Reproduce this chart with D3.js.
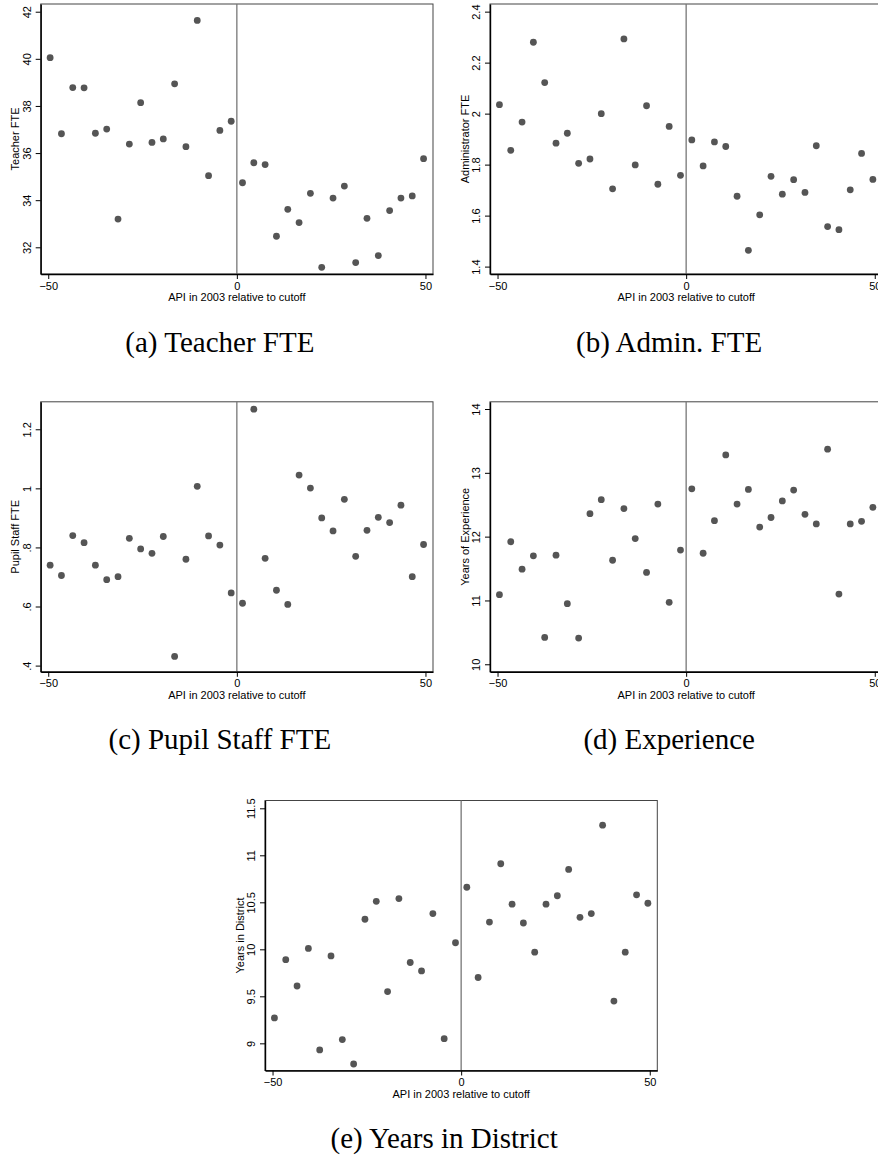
<!DOCTYPE html>
<html>
<head>
<meta charset="utf-8">
<script src="https://cdn.jsdelivr.net/npm/d3@7"></script>
<style>
  body { margin: 0; background: #fff; }
  svg { display: block; }
</style>
</head>
<body>
<svg id="chart" width="878" height="1156"></svg>
<script>
// bin midpoints of API relative to cutoff
var apiBins = [-49.5, -46.5, -43.5, -40.5, -37.5, -34.5, -31.5, -28.5, -25.5, -22.5, -19.5, -16.5,
               -13.5, -10.5, -7.5, -4.5, -1.5, 1.5, 4.5, 7.5, 10.5, 13.5, 16.5, 19.5, 22.5, 25.5,
               28.5, 31.5, 34.5, 37.5, 40.5, 43.5, 46.5, 49.5];

var teacherFte = [40.05, 36.82, 38.78, 38.77, 36.84, 37.02, 33.20, 36.38, 38.14, 36.45, 36.60, 38.94,
                  36.27, 41.63, 35.04, 36.96, 37.35, 34.74, 35.59, 35.51, 32.47, 33.61, 33.05, 34.29,
                  31.15, 34.09, 34.60, 31.35, 33.23, 31.65, 33.56, 34.09, 34.18, 35.76];
var adminFte = [2.035, 1.856, 1.967, 2.280, 2.122, 1.884, 1.923, 1.805, 1.822, 2.000, 1.705, 2.293,
                1.799, 2.031, 1.723, 1.950, 1.758, 1.897, 1.795, 1.889, 1.871, 1.676, 1.464, 1.603,
                1.754, 1.684, 1.741, 1.691, 1.874, 1.557, 1.545, 1.701, 1.844, 1.742];
var pupilStaffFte = [0.740, 0.705, 0.840, 0.816, 0.740, 0.691, 0.701, 0.831, 0.795, 0.780, 0.837, 0.431,
                     0.760, 1.007, 0.839, 0.808, 0.646, 0.611, 1.268, 0.763, 0.655, 0.607, 1.045, 1.001,
                     0.900, 0.856, 0.963, 0.770, 0.858, 0.902, 0.884, 0.943, 0.701, 0.810];
var experience = [11.09, 11.92, 11.49, 11.70, 10.42, 11.71, 10.95, 10.41, 12.36, 12.58, 11.63, 12.44,
                  11.97, 11.44, 12.51, 10.97, 11.79, 12.75, 11.74, 12.25, 13.28, 12.51, 12.74, 12.15,
                  12.30, 12.56, 12.73, 12.35, 12.20, 13.37, 11.10, 12.20, 12.24, 12.46];
var yearsDistrict = [9.27, 9.89, 9.61, 10.01, 8.93, 9.93, 9.04, 8.78, 10.32, 10.51, 9.55, 10.54,
                     9.86, 9.77, 10.38, 9.05, 10.07, 10.66, 9.70, 10.29, 10.91, 10.48, 10.28, 9.97,
                     10.48, 10.57, 10.85, 10.34, 10.38, 11.32, 9.45, 9.97, 10.58, 10.49];

// tick values and their labels
var xTicks = [-50, 0, 50];
var xTickLabels = ["\u221250", "0", "50"];
var teacherTicks = [32, 34, 36, 38, 40, 42];
var teacherTickLabels = ["32", "34", "36", "38", "40", "42"];
var adminTicks = [1.4, 1.6, 1.8, 2, 2.2, 2.4];
var adminTickLabels = ["1.4", "1.6", "1.8", "2", "2.2", "2.4"];
var pupilTicks = [0.4, 0.6, 0.8, 1, 1.2];
var pupilTickLabels = [".4", ".6", ".8", "1", "1.2"];
var expTicks = [10, 11, 12, 13, 14];
var expTickLabels = ["10", "11", "12", "13", "14"];
var districtTicks = [9, 9.5, 10, 10.5, 11, 11.5];
var districtTickLabels = ["9", "9.5", "10", "10.5", "11", "11.5"];

var xTitle = "API in 2003 relative to cutoff";

var plotW = 392.3, plotH = 270;
var sans = "'Liberation Sans', Arial, Helvetica, sans-serif";
var serif = "'Liberation Serif', 'Times New Roman', serif";

var panels = [
    {left: 40.7, top: 4, values: teacherFte, ticks: teacherTicks, labels: teacherTickLabels,
     yDomain: [30.867, 42.327], ytitle: "Teacher FTE", caption: "(a) Teacher FTE"},
    {left: 490, top: 4, values: adminFte, ticks: adminTicks, labels: adminTickLabels,
     yDomain: [1.371, 2.430], ytitle: "Administrator FTE", caption: "(b) Admin. FTE"},
    {left: 40.7, top: 401.8, values: pupilStaffFte, ticks: pupilTicks, labels: pupilTickLabels,
     yDomain: [0.379, 1.293], ytitle: "Pupil Staff FTE", caption: "(c) Pupil Staff FTE"},
    {left: 490, top: 401.8, values: experience, ticks: expTicks, labels: expTickLabels,
     yDomain: [9.882, 14.113], ytitle: "Years of Experience", caption: "(d) Experience"},
    {left: 265, top: 800.5, values: yearsDistrict, ticks: districtTicks, labels: districtTickLabels,
     yDomain: [8.711, 11.583], ytitle: "Years in District", caption: "(e) Years in District"}
];

var svg = d3.select("#chart");

panels.forEach(function(p) {
    var g = svg.append("g")
        .attr("transform", "translate(" + p.left + "," + p.top + ")");

    var xScale = d3.scaleLinear().domain([-52, 52]).range([0, plotW]);
    var yScale = d3.scaleLinear().domain(p.yDomain).range([plotH, 0]);

    // plot region outline (top / right)
    g.append("rect")
        .attr("x", 0).attr("y", 0)
        .attr("width", plotW).attr("height", plotH)
        .attr("fill", "none")
        .attr("stroke", "#444")
        .attr("stroke-width", 1);

    // cutoff line
    g.append("line")
        .attr("x1", xScale(0)).attr("x2", xScale(0))
        .attr("y1", 0).attr("y2", plotH)
        .attr("stroke", "#777")
        .attr("stroke-width", 1.3);

    // y axis
    var yAxis = g.append("g")
        .call(d3.axisLeft(yScale)
            .tickValues(p.ticks)
            .tickFormat(function(d, i) { return p.labels[i]; })
            .tickSize(5)
            .tickSizeOuter(0));
    yAxis.select(".domain").attr("stroke", "#000").attr("stroke-width", 1.4);
    yAxis.selectAll(".tick line").attr("stroke", "#000").attr("stroke-width", 1);
    yAxis.selectAll(".tick text")
        .attr("x", 0).attr("dy", 0)
        .attr("text-anchor", "middle")
        .attr("transform", "translate(-10,0) rotate(-90)")
        .attr("fill", "#000")
        .style("font-family", sans)
        .style("font-size", "11px");

    // x axis
    var xAxis = g.append("g")
        .attr("transform", "translate(0," + plotH + ")")
        .call(d3.axisBottom(xScale)
            .tickValues(xTicks)
            .tickFormat(function(d, i) { return xTickLabels[i]; })
            .tickSize(5)
            .tickSizeOuter(0));
    xAxis.select(".domain").attr("stroke", "#000").attr("stroke-width", 1.4);
    xAxis.selectAll(".tick line").attr("stroke", "#000").attr("stroke-width", 1);
    xAxis.selectAll(".tick text")
        .attr("y", 15.7).attr("dy", 0)
        .attr("fill", "#000")
        .style("font-family", sans)
        .style("font-size", "11px");

    // axis titles
    g.append("text")
        .attr("transform", "translate(-21.5," + (plotH / 2) + ") rotate(-90)")
        .attr("text-anchor", "middle")
        .style("font-family", sans)
        .style("font-size", "11px")
        .text(p.ytitle);

    g.append("text")
        .attr("x", xScale(0))
        .attr("y", plotH + 27.3)
        .attr("text-anchor", "middle")
        .style("font-family", sans)
        .style("font-size", "11px")
        .text(xTitle);

    // points
    g.append("g")
        .selectAll("circle")
        .data(apiBins)
        .enter()
        .append("circle")
            .attr("cx", function(d) { return xScale(d); })
            .attr("cy", function(d, i) { return yScale(p.values[i]); })
            .attr("r", 3.4)
            .attr("fill", "#555");

    // subfigure caption
    g.append("text")
        .attr("x", plotW / 2 - 17)
        .attr("y", plotH + 77.7)
        .attr("text-anchor", "middle")
        .style("font-family", serif)
        .style("font-size", "29px")
        .text(p.caption);
});
</script>
</body>
</html>
